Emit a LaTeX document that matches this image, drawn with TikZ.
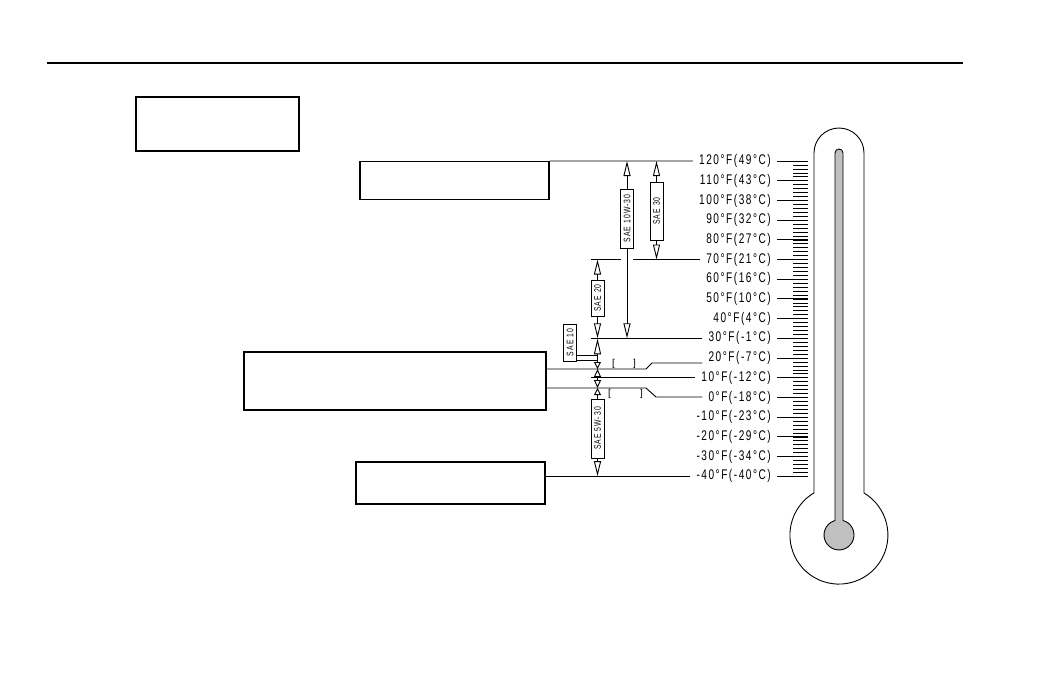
\documentclass[tikz,border=0pt]{standalone}
\usepackage{fontspec}
\setmainfont{Liberation Sans}
\newfontfamily\chartfont[LetterSpace=11,FakeStretch=0.72]{Liberation Sans}
\usetikzlibrary{arrows.meta}
\definecolor{mercury}{HTML}{C0C0C0}

\tikzset{
  infobox/.style={draw, line width=1.1pt, inner sep=0pt},
  templbl/.style={anchor=east, inner ysep=2pt, inner xsep=6pt, font=\chartfont\fontsize{14}{16}\selectfont},
  saebox/.style={draw, fill=white, rotate=90, line width=0.9pt, minimum height=13pt,
    inner sep=0.5pt, font=\chartfont\fontsize{9.5}{10}\selectfont},
  lead/.style={line width=0.9pt},
  grade/.style={line width=0.9pt, {Triangle[open,length=15pt,width=7pt]}-{Triangle[open,length=15pt,width=7pt]}},
  brk/.style={inner sep=0pt, font=\fontsize{10}{11}\selectfont},
}

\begin{document}
\begin{tikzpicture}[x=1pt, y=-1pt]
  \useasboundingbox (0,0) rectangle (1040,673);
  \draw[line width=1.2pt] (47,63) -- (963,63);

  % empty note boxes
  \node[infobox, minimum width=163pt, minimum height=54pt] (bA) at (217.5,124) {};
  \node[infobox, minimum width=189pt, minimum height=38pt] (bB) at (454.5,180.5) {};
  \node[infobox, minimum width=302pt, minimum height=58pt] (bC) at (395,381) {};
  \node[infobox, minimum width=189pt, minimum height=42pt] (bD) at (450.5,483) {};

  \coordinate (tickend) at (808,0);
  \coordinate (colA) at (597.5,0);
  \coordinate (colB) at (627,0);
  \coordinate (colC) at (656.5,0);
  \coordinate (g1) at (591,0);
  \coordinate (g2) at (621,0);
  \coordinate (g3) at (633,0);

  % scale
  \foreach \tf in {-38,-36,...,118}
    \draw[line width=0.6pt] (793,{161+(120-(\tf))*1.97}) -- (808,{161+(120-(\tf))*1.97});
  \foreach \tf/\tc [count=\i] in {120/49,110/43,100/38,90/32,80/27,70/21,60/16,50/10,40/4,
      30/-1,20/-7,10/-12,0/-18,-10/-23,-20/-29,-30/-34,-40/-40} {
    \node[templbl] (t\i) at (777,{161+(120-(\tf))*1.97}) {\tf°F(\tc°C)};
    \draw[lead] (t\i.east) -- (t\i.east -| tickend);
  }

  % leaders
  \coordinate (jC1) at (646,369);
  \coordinate (jC2) at (646,388);
  \draw[lead] (bB.north east) -- (t1.west);
  \draw[lead] (t6.west -| g1) -- (t6.west -| g2) (t6.west -| g3) -- (t6.west);
  \draw[lead] (t10.west -| g1) -- (t10.west);
  \draw[lead] (t12.west -| g1) -- (t12.west);
  \draw[lead] (bC.east |- jC1) -- (jC1) -- ++(6,-6) coordinate (k1) -- (k1 -| t11.west);
  \draw[lead] (bC.east |- jC2) -- (jC2) -- ++(10,9) coordinate (k2) -- (k2 -| t13.west);
  \draw[lead] (bD.east |- t17.west) -- (t17.west);
  \node[brk] (br1) at (624,363.5) {[\hspace{18pt}]};
  \node[brk] (br2) at (625.5,393.5) {[\hspace{29pt}]};

  % grade ranges
  \draw[grade] (t1.west -| colB) -- (t10.west -| colB);
  \draw[grade] (t1.west -| colC) -- (t6.west -| colC);
  \draw[grade] (t6.west -| colA) -- (t10.west -| colA);
  \draw[lead, {Triangle[open,length=16pt,width=7pt]}-{Triangle[open,length=7pt,width=7pt]}]
    (t10.west -| colA) -- (jC1 -| colA);
  \draw[lead, {Triangle[open,length=8pt,width=7pt]}-{Triangle[open,length=8pt,width=7pt]}]
    (jC1 -| colA) -- (jC2 -| colA);
  \draw[lead, {Triangle[open,length=7pt,width=7pt]}-{Triangle[open,length=15pt,width=7pt]}]
    (jC2 -| colA) -- (t17.west -| colA);

  \node[saebox, minimum width=59pt] (s10w30) at (627,218.5) {SAE 10W-30};
  \node[saebox, minimum width=58pt] (s30) at (656.5,211) {SAE 30};
  \node[saebox, minimum width=36pt] (s20) at (597.5,298) {SAE 20};
  \node[saebox, minimum width=37pt] (s10) at (570,342.5) {SAE 10};
  \node[saebox, minimum width=59pt] (s5w30) at (597.5,428.5) {SAE 5W-30};
  \coordinate (lk1) at (597.5,355);
  \coordinate (lk2) at (597.5,360);
  \draw[lead] (s10.south |- lk1) -- (lk1);
  \draw[lead] (s10.south |- lk2) -- (lk2);

  % thermometer
  \draw[lead] (814,493) -- (814,153) arc[start angle=180, end angle=360, radius=25]
    -- (864,493) arc[start angle=-59.2, end angle=239.2, radius=49] -- cycle;
  \draw[lead, fill=mercury] (835,520.5) -- (835,153) arc[start angle=180, end angle=360, radius=4]
    -- (843,520.5) arc[start angle=-74.5, end angle=254.5, radius=15] -- cycle;
\end{tikzpicture}
\end{document}
